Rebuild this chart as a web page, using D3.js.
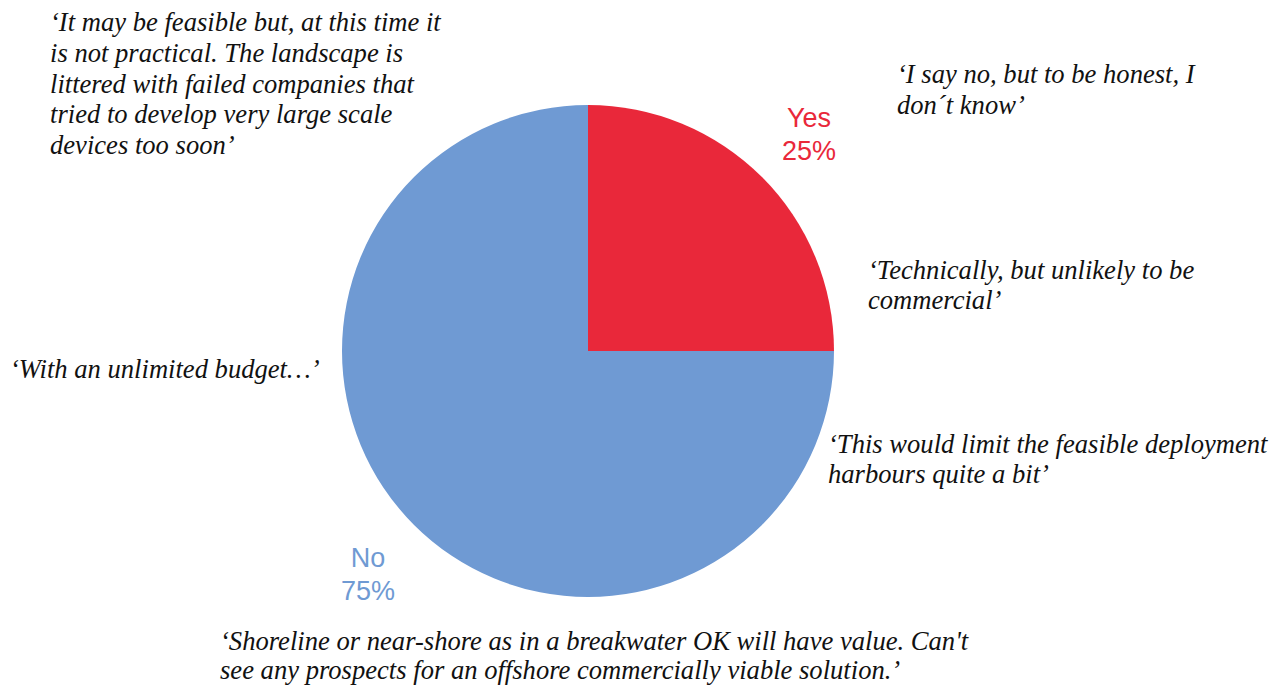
<!DOCTYPE html>
<html>
<head>
<meta charset="utf-8">
<script src="https://cdn.jsdelivr.net/npm/d3@7/dist/d3.min.js"></script>
<style>
  html, body { margin: 0; padding: 0; background: #ffffff; }
  svg { display: block; }
</style>
</head>
<body>
<svg id="chart" width="1286" height="691"></svg>
<script>
// Survey answers
const categories = ["Yes", "No"];
const shares = [25, 75];
const sliceColors = ["#E9283A", "#6F9AD3"];

// Respondent comments placed around the pie
const quoteLines = [
  ["‘It may be feasible but, at this time it", "is not practical. The landscape is", "littered with failed companies that", "tried to develop very large scale", "devices too soon’"],
  ["‘I say no, but to be honest, I", "don´t know’"],
  ["‘Technically, but unlikely to be", "commercial’"],
  ["‘With an unlimited budget…’"],
  ["‘This would limit the feasible deployment", "harbours quite a bit’"],
  ["‘Shoreline or near-shore as in a breakwater OK will have value. Can't", "see any prospects for an offshore commercially viable solution.’"]
];

const serif = '"Liberation Serif", "Times New Roman", Times, serif';
const sans = '"Liberation Sans", Arial, Helvetica, sans-serif';

const svg = d3.select("#chart");
const cx = 588, cy = 351, radius = 246;

const pie = d3.pie().sort(null).value(d => d.value);
const arc = d3.arc().innerRadius(0).outerRadius(radius);
const data = categories.map((c, i) => ({ name: c, value: shares[i], color: sliceColors[i] }));

const g = svg.append("g").attr("transform", `translate(${cx},${cy})`);
g.selectAll("path")
  .data(pie(data))
  .join("path")
  .attr("d", arc)
  .attr("fill", d => d.data.color);

// Category labels outside the slices
const labelPos = [
  { x: 809, y: 127 },
  { x: 368, y: 567 }
];
data.forEach((d, i) => {
  const t = svg.append("text")
    .attr("x", labelPos[i].x)
    .attr("y", labelPos[i].y)
    .attr("text-anchor", "middle")
    .style("font-family", sans)
    .style("font-size", "27px")
    .attr("fill", d.color);
  t.append("tspan").attr("x", labelPos[i].x).text(d.name);
  t.append("tspan").attr("x", labelPos[i].x).attr("dy", 33).text(d.value + "%");
});

// Comment blocks
const quoteLayout = [
  { x: 50, y: 31, lh: 30.8 },
  { x: 897, y: 83, lh: 30.5 },
  { x: 868, y: 279, lh: 30 },
  { x: 10, y: 378, lh: 30 },
  { x: 828, y: 453, lh: 30 },
  { x: 220, y: 650, lh: 28.5 }
];
quoteLines.forEach((lines, i) => {
  const L = quoteLayout[i];
  const t = svg.append("text")
    .style("font-family", serif)
    .style("font-style", "italic")
    .style("font-size", "26.6px")
    .attr("fill", "#111111");
  lines.forEach((line, j) => {
    t.append("tspan")
      .attr("x", L.x)
      .attr("y", L.y + j * L.lh)
      .text(line);
  });
});
</script>
</body>
</html>
